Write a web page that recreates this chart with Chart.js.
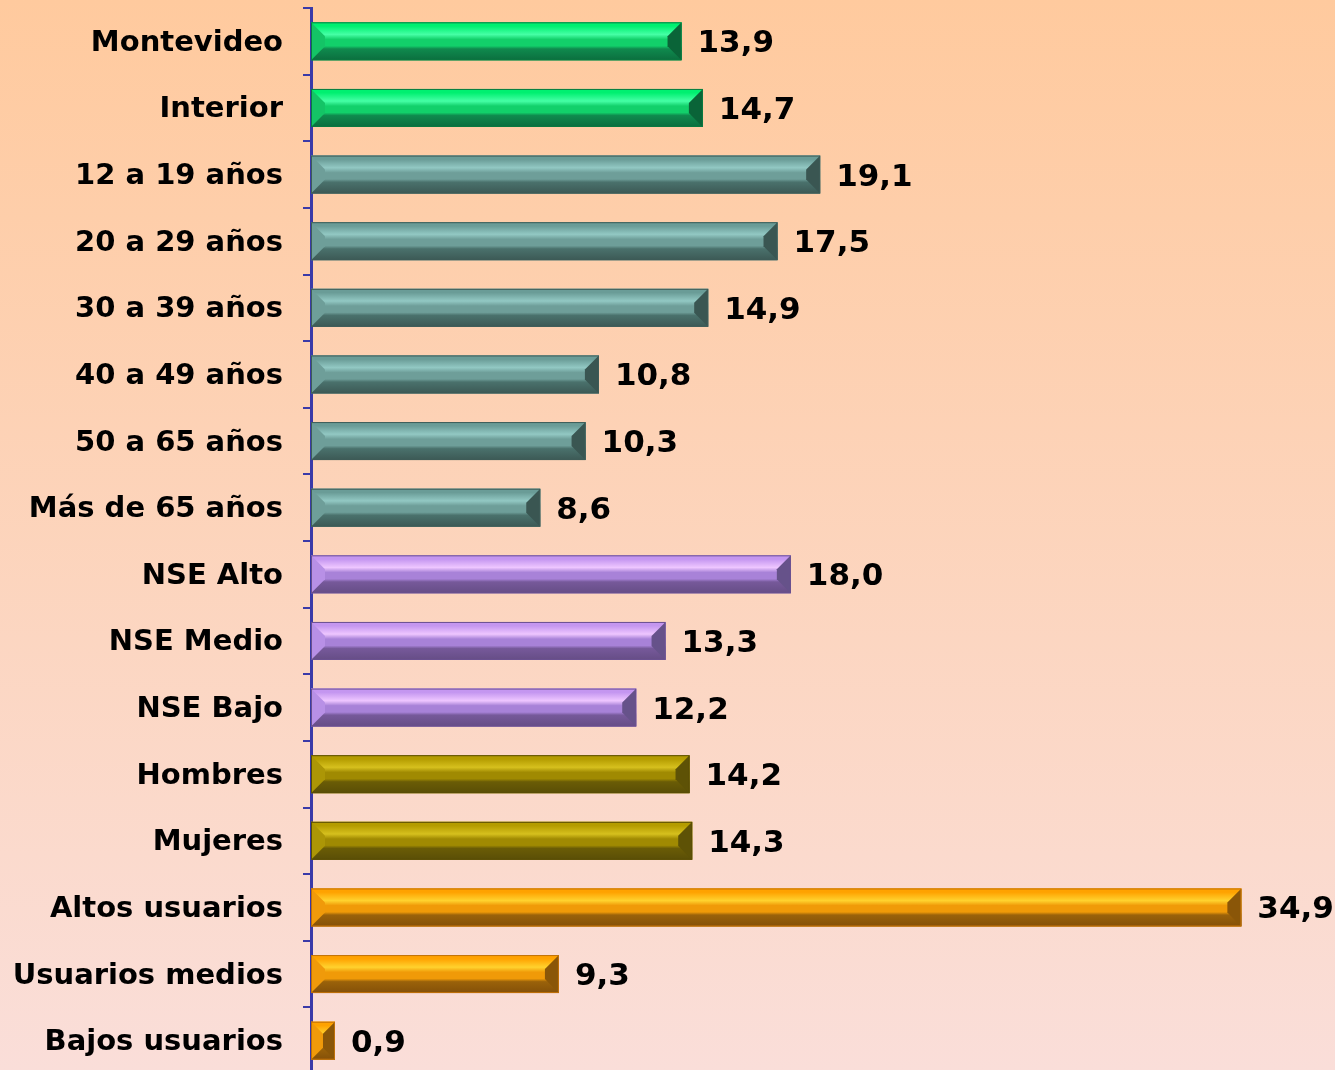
<!DOCTYPE html>
<html>
<head>
<meta charset="utf-8">
<script src="https://cdn.jsdelivr.net/npm/chart.js@4.4.0/dist/chart.umd.min.js"></script>
<style>
  html, body { margin: 0; padding: 0; overflow: hidden; }
  body { width: 1335px; height: 1070px; background: linear-gradient(#FFCA9E, #FADED9); }
  #wrap { position: relative; width: 1335px; height: 1074px; }
</style>
</head>
<body>
<div id="wrap"><canvas id="chart"></canvas></div>
<script>
// data
const categories = ['Montevideo', 'Interior', '12 a 19 años', '20 a 29 años', '30 a 39 años',
  '40 a 49 años', '50 a 65 años', 'Más de 65 años', 'NSE Alto', 'NSE Medio', 'NSE Bajo',
  'Hombres', 'Mujeres', 'Altos usuarios', 'Usuarios medios', 'Bajos usuarios']
const values = [13.9, 14.7, 19.1, 17.5, 14.9, 10.8, 10.3, 8.6, 18.0, 13.3, 12.2, 14.2, 14.3, 34.9, 9.3, 0.9]
const groups = ['zona', 'zona', 'edad', 'edad', 'edad', 'edad', 'edad', 'edad',
  'nse', 'nse', 'nse', 'sexo', 'sexo', 'uso', 'uso', 'uso']

// bevel colours per group
const palette = {
  zona: { stops: ['#00F070', '#45FFA5', '#12D06A', '#0F8A4E', '#0B6E3E'], face: '#14C466', edge: '#0A6438', line: '#0A7A40' },
  edad: { stops: ['#6A9C97', '#92C8C3', '#6E9E99', '#4A716C', '#3C5955'], face: '#6E9E99', edge: '#3A5652', line: '#3E5C58' },
  nse:  { stops: ['#C496F0', '#EEC6FF', '#A882D8', '#76599A', '#664D86'], face: '#B890E6', edge: '#66528A', line: '#6A5090' },
  sexo: { stops: ['#B49C00', '#D6C01E', '#A08A02', '#6A5C06', '#5A4E06'], face: '#AC9606', edge: '#5E5206', line: '#5A4E06' },
  uso:  { stops: ['#FFA200', '#FFD22E', '#F09A08', '#9A620A', '#845008'], face: '#F09A0A', edge: '#8A5608', line: '#C07008' }
}

const fontFamily = '"DejaVu Sans", Verdana, sans-serif'

const bevelBars = {
  id: 'bevelBars',
  afterDatasetsDraw(chart) {
    const ctx = chart.ctx
    const meta = chart.getDatasetMeta(0)
    meta.data.forEach((bar, i) => {
      const p = palette[groups[i]]
      const L = bar.base, R = bar.x
      const T = bar.y - bar.height / 2, B = bar.y + bar.height / 2
      const w = R - L, h = B - T
      const d = Math.min(14, w / 2, h / 2.7)
      ctx.save()
      const g = ctx.createLinearGradient(0, T, 0, B)
      g.addColorStop(0, p.stops[0])
      g.addColorStop(0.1, p.stops[0])
      g.addColorStop(0.32, p.stops[1])
      g.addColorStop(0.45, p.stops[2])
      g.addColorStop(0.62, p.stops[2])
      g.addColorStop(0.7, p.stops[3])
      g.addColorStop(1, p.stops[4])
      ctx.fillStyle = g
      ctx.fillRect(L, T, w, h)
      // left face
      ctx.fillStyle = p.face
      ctx.beginPath()
      ctx.moveTo(L, T); ctx.lineTo(L + d, T + d); ctx.lineTo(L + d, B - d); ctx.lineTo(L, B)
      ctx.closePath(); ctx.fill()
      // right face
      ctx.fillStyle = p.edge
      ctx.beginPath()
      ctx.moveTo(R, T); ctx.lineTo(R - d, T + d); ctx.lineTo(R - d, B - d); ctx.lineTo(R, B)
      ctx.closePath(); ctx.fill()
      ctx.strokeStyle = p.line
      ctx.lineWidth = 1
      ctx.strokeRect(L + 0.5, T + 0.5, w - 1, h - 1)
      // value label
      ctx.fillStyle = '#000'
      ctx.font = 'bold 31px ' + fontFamily
      ctx.textAlign = 'left'
      ctx.textBaseline = 'middle'
      ctx.fillText(values[i].toFixed(1).replace('.', ','), R + 16, bar.y + 3)
      ctx.restore()
    })
  }
}

new Chart(document.getElementById('chart'), {
  type: 'bar',
  data: {
    labels: categories,
    datasets: [{
      data: values,
      backgroundColor: groups.map(gr => palette[gr].stops[0]),
      borderWidth: 0,
      barPercentage: 0.57,
      categoryPercentage: 1
    }]
  },
  options: {
    indexAxis: 'y',
    responsive: true,
    maintainAspectRatio: false,
    animation: false,
    layout: { padding: { top: 8, right: 11, bottom: 0, left: 0 } },
    plugins: { legend: { display: false }, tooltip: { enabled: false } },
    scales: {
      x: { display: false, min: 0, max: 38 },
      y: {
        afterFit(scale) {
          scale.width = 311
          scale.paddingTop = 0
          scale.paddingBottom = 0
        },
        border: { display: true, color: '#3A3AA8', width: 3 },
        grid: { drawOnChartArea: false, drawTicks: true, tickLength: 8, color: '#3A3AA8', lineWidth: 2 },
        ticks: { color: '#000', padding: 20, labelOffset: 2, font: { family: fontFamily, size: 29, weight: 'bold' } }
      }
    }
  },
  plugins: [bevelBars]
})
</script>
</body>
</html>
